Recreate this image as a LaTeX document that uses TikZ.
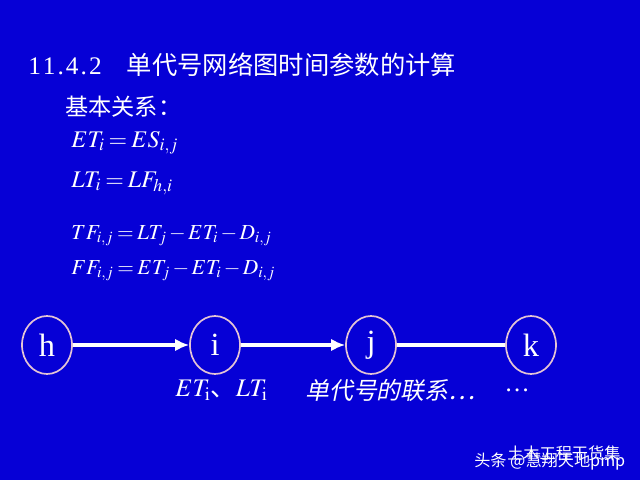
\documentclass[tikz,border=0pt]{standalone}
\usepackage{mathptmx}
\usepackage{fontspec}
\setmainfont{Liberation Serif}
\newfontfamily\cjk{Noto Sans CJK SC}
\newfontfamily\cjkit{Noto Sans CJK SC}[FakeSlant=0.2]
\usetikzlibrary{shapes.geometric,arrows.meta}
\definecolor{slidebg}{RGB}{6,0,214}
\definecolor{ringc}{RGB}{228,196,212}
\newcommand{\fs}[1]{\fontsize{#1}{#1}\selectfont}
\newcommand{\tightmath}{\thickmuskip=3mu\relax\medmuskip=2mu\relax}

\begin{document}
\begin{tikzpicture}[x=0.025cm,y=-0.025cm,>=latex,
    every node/.style={text=white},
    event/.style={ellipse,draw=ringc,line width=1.2pt,minimum width=1.25cm,minimum height=1.45cm,inner sep=0,font=\fs{23}},
    link/.style={white,line width=2.2pt},
    eqn/.style={anchor=west,inner sep=0,font=\fs{17}\tightmath},
    eqnsmall/.style={eqn,font=\fs{15.2}\tightmath},
    note/.style={anchor=west,inner sep=0}]
        \fill[slidebg](0,0)rectangle(640,480);
        \node[note,font=\fs{18}]at(28,65){1\kern.08em1\kern.08em.\kern.08em4\kern.08em.\kern.08em2\hspace{1em}{\cjk 单代号网络图时间参数的计算}};
        \node[note,font=\fs{16.5}]at(65,107){\cjk 基本关系：};
        \node[eqn]at(71,143){$ET_i=ES_{i,j}$};
        \node[eqn]at(71,183){$LT_i=LF_{h,i}$};
        \node[eqnsmall]at(71,236){$TF_{i,j}=LT_j-ET_i-D_{i,j}$};
        \node[eqnsmall]at(71,271){$FF_{i,j}=ET_j-ET_i-D_{i,j}$};
        \node[event](h)at(47,345){h};
        \node[event](i)at(215,345){i};
        \node[event](j)at(371,345){j};
        \node[event](k)at(531,345){k};
        \draw[link,-{Latex[length=10pt,width=9pt]}](h)--(i);
        \draw[link,-{Latex[length=10pt,width=9pt]}](i)--(j);
        \draw[link](j)--(k);
        \node[note,font=\fs{18}](times)at(175,390){$ET_{\mathrm{i}}$\cjk 、$LT_{\mathrm{i}}$};
        \node[note,font=\fs{17}](chain)at(305,390){\cjkit 单代号的联系\textit{\fs{18}…}};
        \node[note,font=\fs{18}](more)at(506,390){\textit{…}};
        \node[note,font=\fs{11.5}](src)at(507,453){\cjk 土木工程干货集};
        \node[note,font=\fs{11.5}](mark)at(474,462){\cjk 头条 @慧翔天地pmp};
\end{tikzpicture}
\end{document}
